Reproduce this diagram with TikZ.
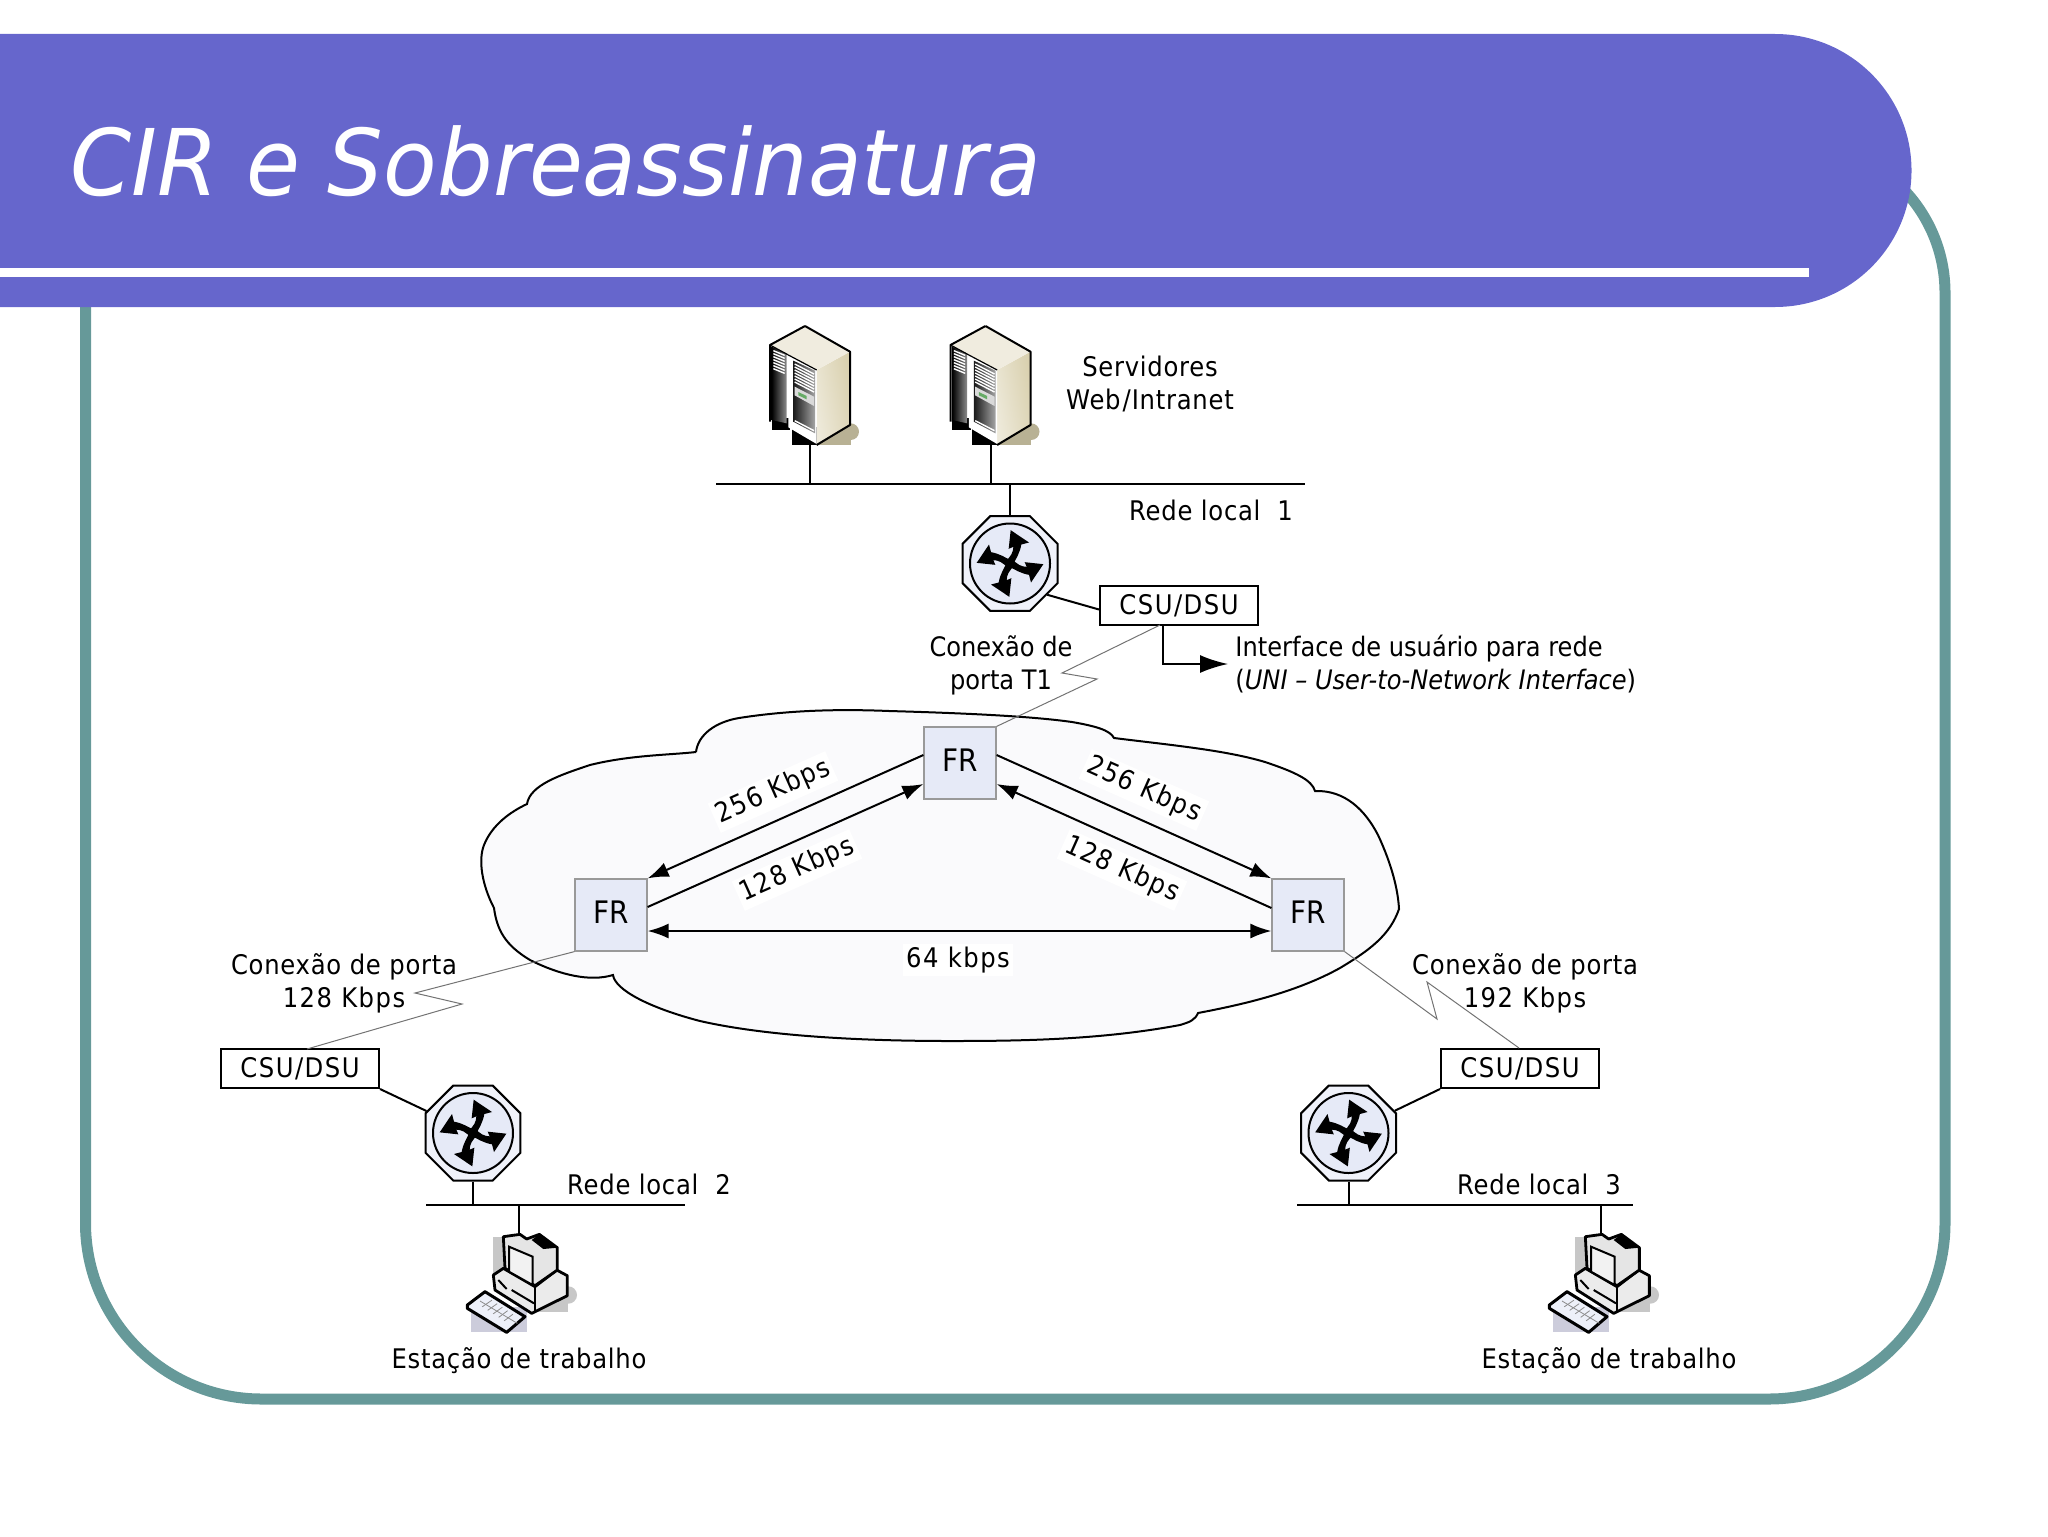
\documentclass[tikz,border=0pt]{standalone}
\usepackage{fontspec}
\setmainfont{DejaVu Sans}[FakeStretch=0.9]
\newfontfamily\spacedfont{DejaVu Sans}[FakeStretch=0.9,LetterSpace=2.7]
\newfontfamily\widefont{DejaVu Sans}[FakeStretch=0.9,LetterSpace=5.5]
\newfontfamily\titlefont{DejaVu Sans}[FakeStretch=0.953]
\usetikzlibrary{arrows.meta,calc,shapes.geometric}
\definecolor{bannerblue}{HTML}{6666CC}
\definecolor{frameteal}{HTML}{669999}
\definecolor{frfill}{HTML}{E6EAF7}
\definecolor{cloudfill}{HTML}{FAFAFC}
\definecolor{servertan}{HTML}{D9D0AE}
\tikzset{
	lbl/.style={font=\spacedfont\fontsize{13.5}{16.5}\selectfont,inner sep=0pt,align=center},
	plainlbl/.style={lbl,font=\fontsize{13.4}{16.5}\selectfont},
	numlbl/.style={lbl,font=\widefont\fontsize{13.5}{16.5}\selectfont},
	rlbl/.style={numlbl,fill=white,inner sep=1.5pt},
	busline/.style={line width=1pt},
	zigline/.style={line width=0.5pt,draw=black!55},
	linkarrow/.style={line width=1pt,-{Latex[length=10.5pt,width=7.5pt]}},
	csubox/.style={draw,fill=white,line width=1pt,minimum width=79pt,minimum height=19.5pt,inner sep=0pt,font=\widefont\fontsize{13.5}{16}\selectfont},
	frbox/.style={draw=black!40,fill=frfill,line width=0.6pt,minimum size=36pt,inner sep=0pt,text depth=3pt,font=\fontsize{15.5}{16}\selectfont},
	routerbox/.style={regular polygon,regular polygon sides=8,draw,fill=frfill!60!white,line width=1pt,minimum size=51.4pt,inner sep=0pt},
	pics/routericon/.style={code={
		\begin{scope}[scale=1/3]
			\draw[line width=1pt,fill=frfill] (0,0) circle (120);
			\foreach \a in {0,90,180,270}
				\fill[rotate=\a] (2,-100)--(57,-63)--(34,-57) .. controls (30,-33) and (18,-13) .. (6,8) -- (-15,-6) .. controls (3,-20) and (10,-35) .. (10,-50) -- (-4,-44) -- cycle;
		\end{scope}
	}},
	pics/servericon/.style={code={
		\begin{scope}[scale=1/3,shift={(-150,-375)}]
			\fill[servertan!85!black] (170,320) rectangle (272,375);
			\fill[servertan!85!black] (272,335) circle (25);
			\fill[black] (35,295) rectangle (90,330);
			\fill[black] (95,320) rectangle (170,375);
			\shade[left color=servertan!45!white,right color=servertan,shading angle=100] (170,150)--(270,95)--(270,315)--(170,375)--cycle;
			\fill[servertan!40!white] (135,18)--(270,95)--(170,150)--(85,105)--(30,75)--cycle;
			\shade[left color=black,right color=black!45] (35,80)--(80,100)--(80,310)--(35,300)--cycle;
			\fill[white] (85,105)--(170,150)--(170,372)--(85,322)--cycle;
			\shade[left color=black!90,right color=black!35] (100,122)--(165,152)--(165,340)--(100,305)--cycle;
			\foreach \y in {0,9,...,54} {
				\draw[white,line width=0.7pt] (104,132+\y)--(162,162+\y);
				\draw[white,line width=0.7pt] (40,92+\y)--(74,106+\y);
			}
			\fill[black!15] (104,200)--(162,230)--(162,258)--(104,226)--cycle;
			\fill[black!55!green!60] (115,216)--(140,228)--(140,238)--(115,226)--cycle;
			\foreach \y in {0,11,22}
				\draw[white,line width=0.7pt] (104,302+\y)--(162,332+\y);
			\draw[line width=1pt,line join=round] (135,18)--(270,95)--(270,315)--(170,375);
			\draw[line width=1pt,line join=round] (135,18)--(30,75)--(30,305);
			\draw[line width=0.6pt] (30,75)--(85,105);
			\draw[line width=0.6pt] (85,105)--(170,150);
		\end{scope}
	}},
	pics/pcicon/.style={code={
		\begin{scope}[scale=1/3,shift={(-177,-30)}]
			\fill[black!22] (100,35) rectangle (140,150);
			\fill[black!22] (200,150) rectangle (325,262);
			\fill[black!22] (325,210) circle (26);
			\fill[blue!30!black!20] (33,245) rectangle (200,320);
			\draw[line width=1.4pt,line join=round,fill=black!8] (100,150)--(130,130)--(225,185)--(290,135)--(322,152)--(322,212)--(215,265)--(105,195)--cycle;
			\draw[line width=1.4pt,line join=round,fill=black!10] (130,35)--(180,28)--(200,42)--(238,28)--(292,68)--(292,135)--(225,182)--(135,130)--cycle;
			\fill[black] (238,28)--(292,68)--(250,72)--(215,45)--cycle;
			\draw[line width=1pt,fill=black!5] (147,65)--(218,95)--(218,180)--(147,140)--cycle;
			\draw[line width=1pt] (115,165)--(140,192);
			\draw[line width=1pt] (155,195)--(222,235);
			\draw[line width=0.7pt] (225,185)--(225,262);
			\draw[line width=1.5pt,line join=round,fill=frfill!70!white] (22,240)--(75,200)--(195,275)--(140,322)--(22,250)--cycle;
			\foreach \t in {0.15,0.3,...,0.9}
				\draw[black!45,line width=0.4pt] ($(50,235)!\t!(160,305)$)--($(80,215)!\t!(185,285)$);
			\draw[black!45,line width=0.4pt] (60,228)--(172,295);
		\end{scope}
	}},
}
\begin{document}
\begin{tikzpicture}[x=0.5pt,y=-0.5pt]
	\useasboundingbox (0,0) rectangle (2048,1536);
	\draw[frameteal,line width=5.5pt,rounded corners=88pt] (85.5,143) -- (85.5,1399) -- (1945,1399) -- (1945,293);
	\draw[frameteal,line width=5.5pt,rounded corners=75pt] (1945,293) -- (1945,143) -- (1700,143);
	\fill[bannerblue] (0,34) -- (1775,34) arc[start angle=90,end angle=-90,radius=68.25pt] -- (0,307) -- cycle;
	\fill[white] (0,268) rectangle (1809,277);
	\node[anchor=west,inner sep=0pt,text=white,font=\titlefont\itshape\fontsize{46}{50}\selectfont] (titletext) at (70,161) {CIR e Sobreassinatura};

	\draw[black,line width=1pt,fill=cloudfill] (696,752)
		.. controls (698,735) and (715,722) .. (739,718)
		.. controls (790,710) and (840,709) .. (889,711)
		.. controls (960,713) and (1030,716) .. (1072,722)
		.. controls (1095,726) and (1110,730) .. (1114,738)
		.. controls (1170,745) and (1225,750) .. (1265,762)
		.. controls (1295,772) and (1312,780) .. (1315,791)
		.. controls (1345,790) and (1365,810) .. (1378,835)
		.. controls (1392,865) and (1398,890) .. (1399,909)
		.. controls (1390,935) and (1370,950) .. (1340,968)
		.. controls (1295,993) and (1240,1005) .. (1198,1013)
		.. controls (1195,1020) and (1190,1022) .. (1180,1025)
		.. controls (1100,1040) and (1020,1041) .. (950,1041)
		.. controls (870,1041) and (770,1037) .. (700,1021)
		.. controls (650,1008) and (615,990) .. (613,975)
		.. controls (590,982) and (560,975) .. (530,960)
		.. controls (505,945) and (497,930) .. (494,908)
		.. controls (482,885) and (478,860) .. (484,845)
		.. controls (492,825) and (510,812) .. (527,804)
		.. controls (530,785) and (560,775) .. (590,765)
		.. controls (630,755) and (670,755) .. (696,752);

	\coordinate (servera) at (810,445);
	\coordinate (serverb) at (990.5,445);
	\coordinate (busaw) at (716,484);
	\coordinate (busae) at (1305,484);
	\coordinate (busbw) at (426,1205);
	\coordinate (busbe) at (685,1205);
	\coordinate (buscw) at (1297,1205);
	\coordinate (busce) at (1633,1205);
	\coordinate (pca) at (519,1235);
	\coordinate (pcb) at (1601,1235);

	\node[routerbox] (routera) at (1010,563.5) {};
	\node[routerbox] (routerb) at (473,1133) {};
	\node[routerbox] (routerc) at (1348.5,1133) {};
	\pic at (routera) {routericon};
	\pic at (routerb) {routericon};
	\pic at (routerc) {routericon};

	\node[csubox] (csua) at (1179,605.5) {CSU/DSU};
	\node[csubox] (csub) at (300,1068.5) {CSU/DSU};
	\node[csubox] (csuc) at (1520,1068.5) {CSU/DSU};
	\node[frbox] (fra) at (960,763) {FR};
	\node[frbox] (frb) at (611,915) {FR};
	\node[frbox] (frc) at (1308,915) {FR};

	\draw[busline] (busaw) -- (busae);
	\draw[busline] (busbw) -- (busbe);
	\draw[busline] (buscw) -- (busce);
	\draw[busline] (servera) -- (servera |- busae);
	\draw[busline] (serverb) -- (serverb |- busae);
	\draw[busline] (routera.north) -- (routera |- busae);
	\draw[busline] (routerb.south) -- (routerb |- busbe);
	\draw[busline] (routerc.south) -- (routerc |- busce);
	\draw[busline] (pca) -- (pca |- busbe);
	\draw[busline] (pcb) -- (pcb |- busce);
	\draw[busline] (routera.-40) -- ([yshift=-2pt]csua.west);
	\draw[busline] (routerb) -- (csub.south east);
	\draw[busline] (routerc) -- (csuc.south west);

	\pic at (servera) {servericon};
	\pic at (serverb) {servericon};
	\pic at (pca) {pcicon};
	\pic at (pcb) {pcicon};

	\coordinate (ziga) at (1160,625);
	\coordinate (zigab) at (1062,673);
	\coordinate (zigac) at (1097,679);
	\coordinate (zigb) at (307,1049);
	\coordinate (zigbb) at (462,1004);
	\coordinate (zigbc) at (415,993);
	\coordinate (zigc) at (1519,1048);
	\coordinate (zigcb) at (1427,982);
	\coordinate (zigcc) at (1437,1019);
	\draw[zigline] (ziga) -- (zigab) -- (zigac) -- (fra.north east);
	\draw[zigline] (zigb) -- (zigbb) -- (zigbc) -- (frb.south west);
	\draw[zigline] (zigc) -- (zigcb) -- (zigcc) -- (frc.south east);

	\draw[linkarrow] ([yshift=4pt]fra.west) -- (frb.north east);
	\draw[linkarrow] ([yshift=4pt]frb.east) -- ([yshift=-10.5pt]fra.west);
	\draw[linkarrow] ([yshift=4pt]fra.east) -- (frc.north west);
	\draw[linkarrow] ([yshift=3.5pt]frc.west) -- ([yshift=-10.5pt]fra.east);
	\draw[line width=1pt,{Latex[length=10.5pt,width=7.5pt]}-{Latex[length=10.5pt,width=7.5pt]}] ([yshift=-8pt]frb.east) -- ([yshift=-8pt]frc.west);
	\draw[line width=1pt,-{Latex[length=14pt,width=9pt]}] (csua.south -| 1163,0) |- (1228,664);

	\node[rlbl,rotate=24] (lblab) at (773,792) {256 Kbps};
	\node[rlbl,rotate=24] (lblba) at (797,870) {128 Kbps};
	\node[rlbl,rotate=-24] (lblac) at (1144,790) {256 Kbps};
	\node[rlbl,rotate=-24] (lblca) at (1122,870) {128 Kbps};
	\node[rlbl] (lblbc) at (958,960) {64 kbps};

	\node[lbl] (lblservers) at (1150,384) {Servidores\\Web\kern1pt/\kern.5pt Intranet};
	\node[lbl] (lblreda) at (1211,510) {Rede local~~1};
	\node[lbl] (lblredb) at (649,1184) {Rede local~~2};
	\node[lbl] (lblredc) at (1539,1184) {Rede local~~3};
	\node[plainlbl] (lblporta) at (1001,665) {Conexão de\\porta T1};
	\node[lbl] (lblportb) at (344,983) {Conexão de porta\\{\widefont 128 Kbps}};
	\node[lbl] (lblportc) at (1525,983) {Conexão de porta\\{\widefont 192 Kbps}};
	\node[plainlbl,anchor=west,align=left] (lbluni) at (1235,664) {Interface de usuário para rede\\(\textit{UNI – User-to-Network Interface})};
	\node[lbl] (lblpca) at (519,1361) {Estação de trabalho};
	\node[lbl] (lblpcb) at (1609,1361) {Estação de trabalho};
\end{tikzpicture}
\end{document}
